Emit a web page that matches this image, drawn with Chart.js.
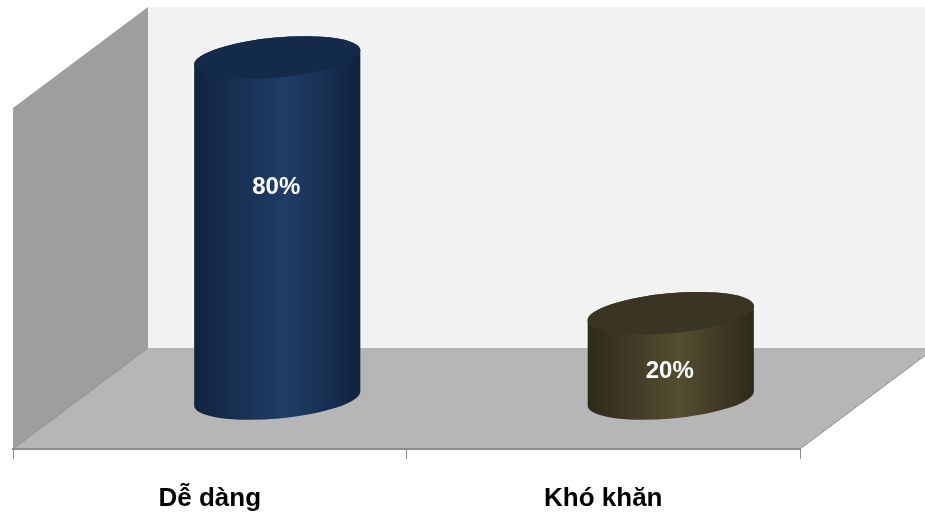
<!DOCTYPE html>
<html>
<head>
<meta charset="utf-8">
<script src="https://cdn.jsdelivr.net/npm/chart.js@4"></script>
<style>
  html, body { margin: 0; padding: 0; background: #ffffff; }
  #wrap { width: 925px; height: 514px; }
</style>
</head>
<body>
<div id="wrap"><canvas id="chart" width="925" height="514"></canvas></div>
<script>
// Chart data
const categories = ["Dễ dàng", "Khó khăn"];
const values = [80, 20];
const valueLabels = ["80%", "20%"];

// Cylinder colours (edge, middle, top)
const cylColors = [
    { edge: "#10233e", mid: "#1f3d68", top: "#132a4a" },
    { edge: "#2d2a1b", mid: "#554d31", top: "#3a3423" }
];

// 3D depth of the floor (full depth)
const depthX = 135;
const depthY = 101;
const tilt = -0.09;
const capRy = 20;

const FONT = "'Liberation Sans', Arial, sans-serif";

// Draw walls and floor behind everything
const wallsPlugin = {
    id: "walls",
    beforeDraw(chart) {
        const ctx = chart.ctx;
        const a = chart.chartArea;
        ctx.save();
        // back wall
        ctx.fillStyle = "#f2f2f2";
        ctx.fillRect(a.left + depthX, a.top - depthY, a.right - a.left, a.bottom - a.top);
        // left wall
        ctx.fillStyle = "#9e9e9e";
        ctx.beginPath();
        ctx.moveTo(a.left, a.top);
        ctx.lineTo(a.left + depthX, a.top - depthY);
        ctx.lineTo(a.left + depthX, a.bottom - depthY);
        ctx.lineTo(a.left, a.bottom);
        ctx.closePath();
        ctx.fill();
        // floor
        ctx.fillStyle = "#b6b6b6";
        ctx.beginPath();
        ctx.moveTo(a.left, a.bottom);
        ctx.lineTo(a.right, a.bottom);
        ctx.lineTo(a.right + depthX, a.bottom - depthY);
        ctx.lineTo(a.left + depthX, a.bottom - depthY);
        ctx.closePath();
        ctx.fill();
        // floor edges
        ctx.strokeStyle = "#8c8c8c";
        ctx.lineWidth = 1;
        ctx.beginPath();
        ctx.moveTo(a.left, a.bottom);
        ctx.lineTo(a.left + depthX, a.bottom - depthY);
        ctx.moveTo(a.right, a.bottom);
        ctx.lineTo(a.right + depthX, a.bottom - depthY);
        ctx.stroke();
        ctx.restore();
    }
};

// Draw each bar as a cylinder standing at half depth
const cylinderPlugin = {
    id: "cylinders",
    afterDatasetsDraw(chart) {
        const ctx = chart.ctx;
        const meta = chart.getDatasetMeta(0);
        ctx.save();
        meta.data.forEach((bar, i) => {
            const p = bar.getProps(["x", "y", "base", "width"], true);
            const cx = p.x + depthX / 2;
            const ty = p.y - depthY / 2;
            const by = p.base - depthY / 2;
            const rx = p.width / 2;
            const c = cylColors[i];

            const grad = ctx.createLinearGradient(cx - rx, 0, cx + rx, 0);
            grad.addColorStop(0, c.edge);
            grad.addColorStop(0.55, c.mid);
            grad.addColorStop(1, c.edge);

            // body with bottom cap
            ctx.fillStyle = grad;
            ctx.beginPath();
            ctx.ellipse(cx, by, rx, capRy, tilt, 0, Math.PI);
            ctx.lineTo(cx - rx * Math.cos(tilt), ty - rx * Math.sin(tilt));
            ctx.ellipse(cx, ty, rx, capRy, tilt, Math.PI, 2 * Math.PI);
            ctx.closePath();
            ctx.fill();

            // top cap
            ctx.fillStyle = c.top;
            ctx.beginPath();
            ctx.ellipse(cx, ty, rx, capRy, tilt, 0, 2 * Math.PI);
            ctx.fill();

            // value label
            ctx.fillStyle = "#ffffff";
            ctx.font = "bold 24px " + FONT;
            ctx.textAlign = "center";
            ctx.textBaseline = "middle";
            const ly = ty + (by - ty) * 0.28 + 34;
            ctx.fillText(valueLabels[i], cx - 1, ly);
        });
        ctx.restore();
    }
};

new Chart(document.getElementById("chart"), {
    type: "bar",
    data: {
        labels: categories,
        datasets: [{
            data: values,
            backgroundColor: "rgba(0,0,0,0)",
            borderWidth: 0,
            barPercentage: 0.424,
            categoryPercentage: 1
        }]
    },
    options: {
        responsive: false,
        animation: false,
        devicePixelRatio: 1,
        layout: { padding: { left: 13, right: 125, top: 108, bottom: 0 } },
        plugins: {
            legend: { display: false },
            tooltip: { enabled: false }
        },
        scales: {
            x: {
                grid: {
                    drawOnChartArea: false,
                    drawTicks: true,
                    tickLength: 10,
                    color: "#8c8c8c"
                },
                border: { color: "#8c8c8c", width: 2 },
                ticks: {
                    color: "#000000",
                    padding: 24,
                    font: { family: FONT, size: 26, weight: "bold" }
                },
                afterFit(scale) { scale.height = 65; }
            },
            y: {
                display: false,
                min: 0,
                max: 80
            }
        }
    },
    plugins: [wallsPlugin, cylinderPlugin]
});
</script>
</body>
</html>
